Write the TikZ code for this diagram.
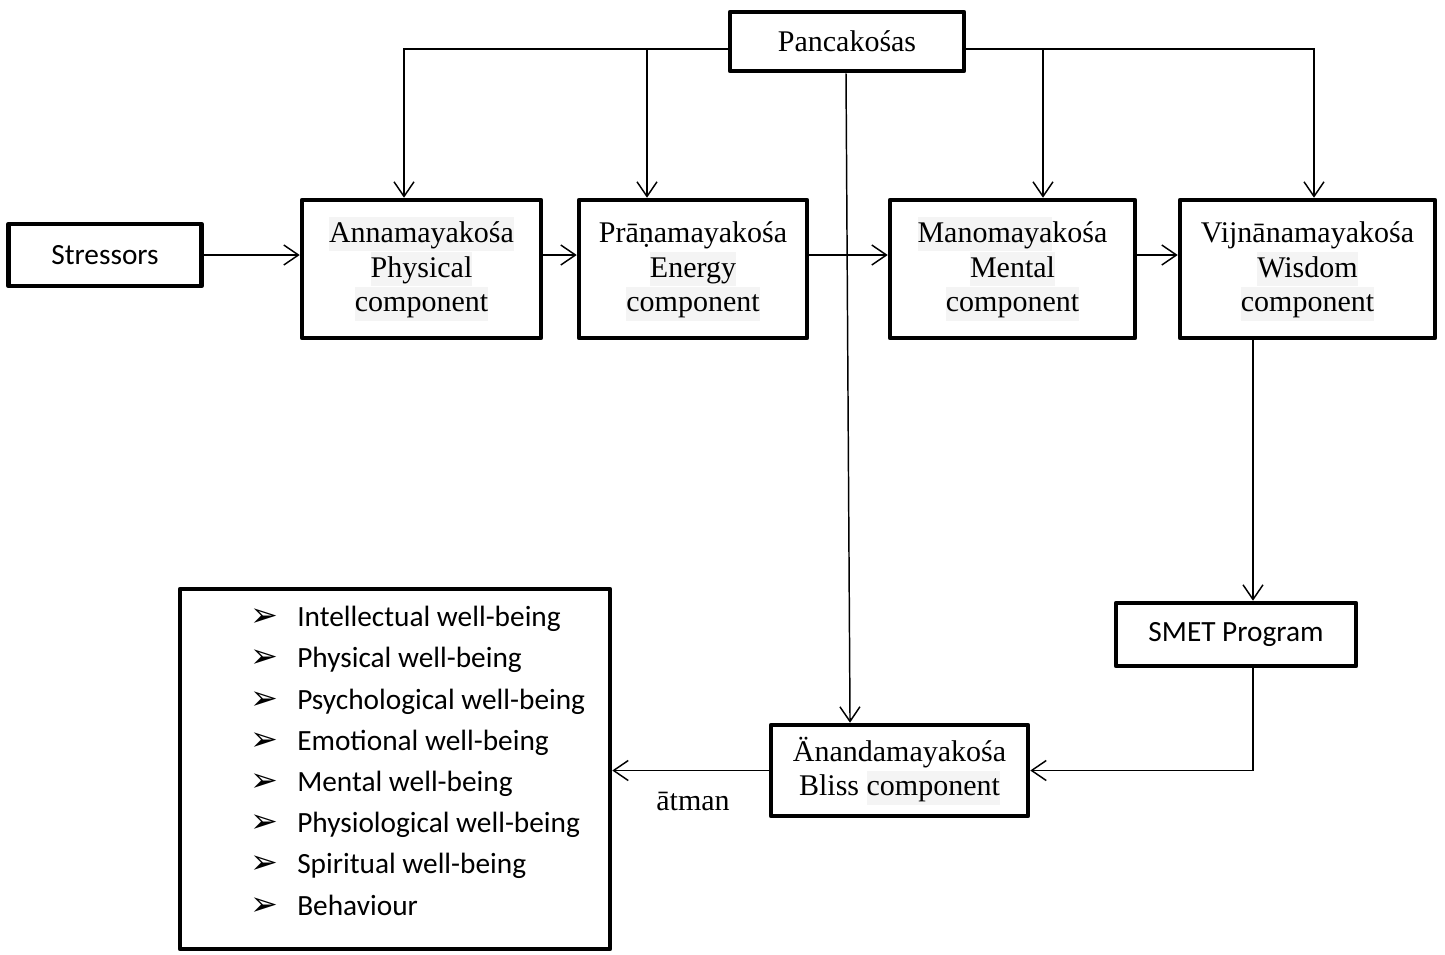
\documentclass[tikz,border=0pt]{standalone}
\usepackage{fontspec}
\setmainfont{Liberation Serif}
\newfontfamily\calib{Carlito}
\newfontfamily\symfont{DejaVu Sans}
\usetikzlibrary{arrows.meta}
\definecolor{hlgray}{HTML}{F4F4F4}
% shaded line (pale highlight behind a word) and plain line with the same strut
\newcommand\hl[1]{{\setlength\fboxsep{0pt}\colorbox{hlgray}{\rule[-6.75pt]{0pt}{25.5pt}#1}}}
\newcommand\nh[1]{\rule[-6.75pt]{0pt}{25.5pt}#1}
\begin{document}
\begin{tikzpicture}[x=0.75pt,y=-0.75pt,
  box/.style 2 args={draw, line width=3.4pt, line join=round, inner sep=0pt,
    minimum width=#1*0.75pt, minimum height=#2*0.75pt, align=center},
  serif/.style={font=\fontsize{22.5}{25.9}\selectfont},
  sans/.style={font=\calib\fontsize{22}{26}\selectfont},
  conn/.style={line width=1.1pt},
  arr/.style={conn, -{Straight Barb[length=11pt,width=15pt]}},
  bullet/.style={anchor=base west, inner sep=0pt, font=\symfont\fontsize{25}{25}\selectfont},
  item/.style={sans, anchor=base west, inner sep=0pt},
]
\useasboundingbox (0,0) rectangle (1445,954);

% boxes
\node[box={234}{59}, serif] (pk) at (847,41.5) {Pancakośas};
\node[box={193}{62}, sans] (st) at (105,255) {Stressors};
\node[box={239}{138}, serif] (an) at (421.5,269) {\hl{Annamayakośa}\\\hl{Physical}\\\hl{component}};
\node[box={228}{138}, serif] (pr) at (693,269) {\nh{Prāṇamayakośa}\\\hl{Energy}\\\hl{component}};
\node[box={245}{138}, serif] (mn) at (1012.5,269) {\hl{Manomaya}kośa\\\hl{Mental}\\\hl{component}};
\node[box={255}{138}, serif] (vj) at (1307.5,269) {\nh{Vijnānamayakośa}\\\hl{Wisdom}\\\hl{component}};
\node[box={240}{63}, sans] (sm) at (1236,634.5) {SMET Program};
\node[box={257}{91}, serif] (ad) at (899.5,770.5) {\nh{Änandamayakośa}\\\nh{Bliss }\hl{component}};
\node[box={430}{360}] (wb) at (395,769) {};

% well-being list
\foreach \t [count=\i from 0] in {Intellectual well-being, Physical well-being,
    Psychological well-being, Emotional well-being, Mental well-being,
    Physiological well-being, Spiritual well-being, Behaviour} {
  \node[bullet] (bu\i) at (250,{626.7+41.2*\i}) {➢};
  \node[item] (it\i) at (297,{626.7+41.2*\i}) {\t};
}

% guide coordinates for the connector runs
\coordinate (ly) at (0,49);
\coordinate (x1) at (404,0);
\coordinate (x2) at (647,0);
\coordinate (x3) at (1043,0);
\coordinate (x4) at (1314,0);
\coordinate (x5) at (1253,0);

% Pancakosas distributes to the four sheaths
\draw[arr] (pk.west |- ly) -| (an.north -| x1);
\draw[arr] (x2 |- ly) -- (pr.north -| x2);
\draw[arr] (pk.east |- ly) -| (vj.north -| x4);
\draw[arr] (x3 |- ly) -- (mn.north -| x3);
\draw[arr] ([xshift=-0.75pt]pk.south) -- ([xshift=-37.1pt]ad.north);

% main chain
\draw[arr] (st.east) -- (an.west |- st.east);
\draw[arr] (an.east |- st.east) -- (pr.west |- st.east);
\draw[arr] (pr.east |- st.east) -- (mn.west |- st.east);
\draw[arr] (mn.east |- st.east) -- (vj.west |- st.east);
\draw[arr] (vj.south -| x5) -- (sm.north -| x5);
\draw[arr] (sm.south -| x5) |- (ad.east);
\draw[arr] (ad.west) -- (wb.east |- ad.west);
\node[serif, inner sep=0pt] (atm) at (693,801) {ātman};
\end{tikzpicture}
\end{document}
